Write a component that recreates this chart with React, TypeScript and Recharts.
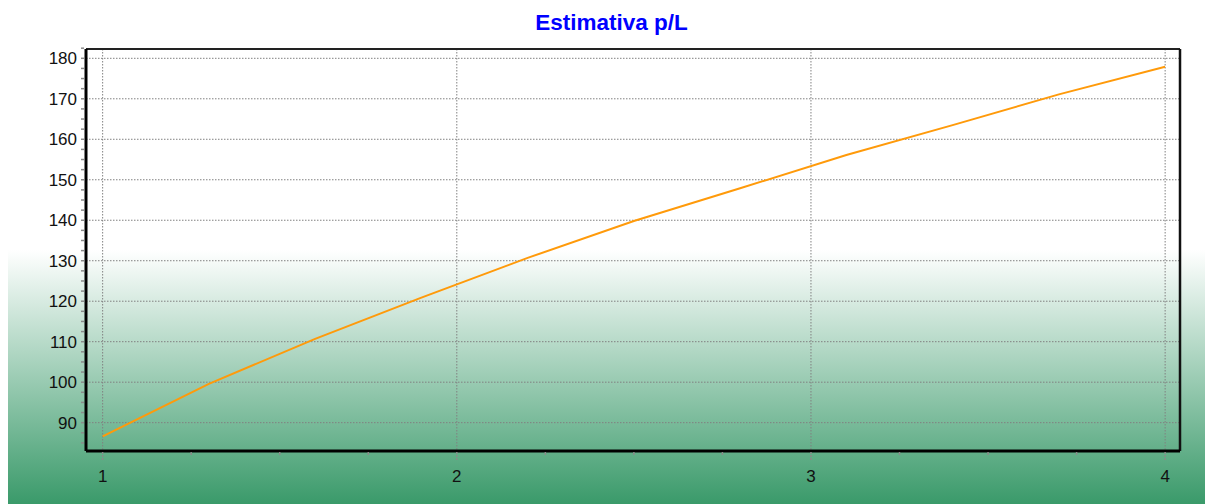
import React from 'react';
import { LineChart, Line, XAxis, YAxis, CartesianGrid, ReferenceLine } from 'recharts';

const title = 'Estimativa p/L';

const xValues = [1, 1.3, 1.6, 1.9, 2.2, 2.5, 2.8, 3.1, 3.4, 3.7, 4];
const yValues = [86.6, 99.6, 110.7, 120.9, 130.7, 139.8, 147.9, 156.1, 163.5, 171.1, 177.9];

const xMajorTicks = [1, 2, 3, 4];
const xMinorTicks = [1.25, 1.5, 1.75, 2.25, 2.5, 2.75, 3.25, 3.5, 3.75];
const yMajorTicks = [90, 100, 110, 120, 130, 140, 150, 160, 170, 180];
const yMinorTicks = [
  85, 87.5, 92.5, 95, 97.5, 102.5, 105, 107.5, 112.5, 115, 117.5, 122.5, 125, 127.5,
  132.5, 135, 137.5, 142.5, 145, 147.5, 152.5, 155, 157.5, 162.5, 165, 167.5, 172.5,
  175, 177.5, 182.5,
];

const data = xValues.map((x, i) => ({ x, y: yValues[i] }));

const X_DOMAIN: [number, number] = [0.953, 4.042];
const Y_DOMAIN: [number, number] = [83.0, 182.3];

const font = '"Liberation Sans", Arial, sans-serif';

const XTick = (props: any) => {
  const { x, y, payload } = props;
  const major = xMajorTicks.includes(payload.value);
  return (
    <g>
      <line
        x1={x}
        x2={x}
        y1={y + 1}
        y2={y + (major ? 9 : 4)}
        stroke="#8a8a8a"
        strokeWidth={1.5}
        strokeDasharray={major ? '2 1' : undefined}
      />
      {major && (
        <text x={x} y={y + 31} textAnchor="middle" fontSize={17} fill="#111" fontFamily={font}>
          {payload.value}
        </text>
      )}
    </g>
  );
};

const YTick = (props: any) => {
  const { x, y, payload } = props;
  const major = yMajorTicks.includes(payload.value);
  return (
    <g>
      <line x1={x - 5} x2={x - 2} y1={y} y2={y} stroke="#8a8a8a" strokeWidth={1.5} />
      {major && (
        <text x={x - 9} y={y + 6} textAnchor="end" fontSize={17} fill="#111" fontFamily={font}>
          {payload.value}
        </text>
      )}
    </g>
  );
};

export default function App() {
  return (
    <div style={{ position: 'relative', width: 1205, height: 504, background: '#fff' }}>
      <style>{`body{margin:0}`}</style>
      <div
        style={{
          position: 'absolute',
          left: 8,
          top: 250,
          width: 1197,
          height: 254,
          background: 'linear-gradient(to bottom, #ffffff 0%, #3a9a6a 100%)',
        }}
      />
      <div
        style={{
          position: 'absolute',
          left: 0,
          top: 10,
          width: 1205,
          textAlign: 'center',
          fontFamily: font,
          fontWeight: 'bold',
          fontSize: 22.5,
          color: '#0000ff',
          lineHeight: '26px',
          paddingLeft: 18,
          boxSizing: 'border-box',
        }}
      >
        {title}
      </div>
      <div style={{ position: 'absolute', left: 0, top: 0 }}>
        <LineChart width={1205} height={504} data={data} margin={{ top: 49, right: 25, bottom: 0, left: 0 }}>
          <CartesianGrid
            stroke="#808080"
            strokeDasharray="1.5 1.5"
            horizontalValues={yMajorTicks}
            verticalValues={xMajorTicks}
          />
          <XAxis
            dataKey="x"
            type="number"
            domain={X_DOMAIN}
            ticks={[...xMajorTicks, ...xMinorTicks]}
            interval={0}
            height={53}
            tickSize={0}
            tickMargin={0}
            tick={<XTick />}
            tickLine={false}
            axisLine={{ stroke: '#000', strokeWidth: 3 }}
            allowDataOverflow
          />
          <YAxis
            type="number"
            domain={Y_DOMAIN}
            ticks={[...yMajorTicks, ...yMinorTicks]}
            interval={0}
            width={86}
            tickSize={0}
            tickMargin={0}
            tick={<YTick />}
            tickLine={false}
            axisLine={{ stroke: '#000', strokeWidth: 3 }}
            allowDataOverflow
          />
          <ReferenceLine y={Y_DOMAIN[1]} stroke="#222" strokeWidth={2} />
          <ReferenceLine x={X_DOMAIN[1]} stroke="#111" strokeWidth={2.5} />
          <Line
            type="linear"
            dataKey="y"
            stroke="#ff9a0a"
            strokeWidth={2}
            dot={false}
            isAnimationActive={false}
          />
        </LineChart>
      </div>
    </div>
  );
}
